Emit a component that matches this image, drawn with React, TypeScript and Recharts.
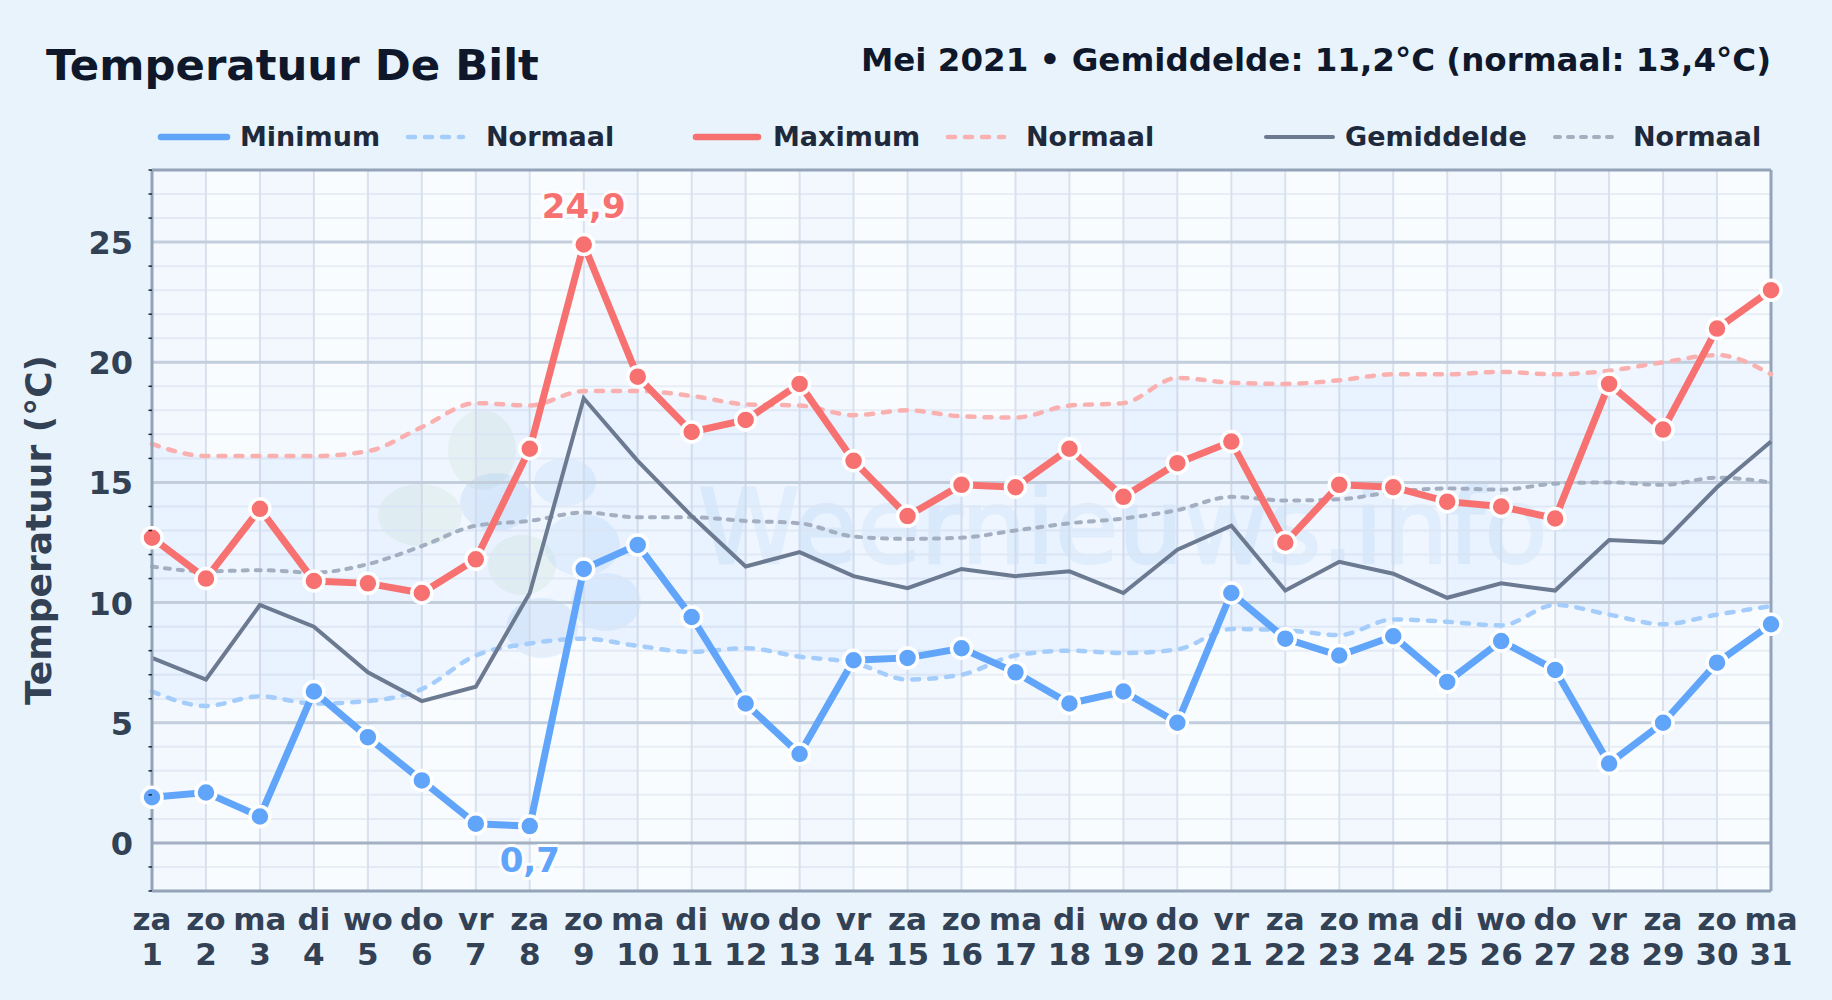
import { ComposedChart, Line, Area, XAxis, YAxis, CartesianGrid, ReferenceArea, ReferenceLine } from 'recharts';

const FONT = '"DejaVu Sans", sans-serif';

const days = [1, 2, 3, 4, 5, 6, 7, 8, 9, 10, 11, 12, 13, 14, 15, 16, 17, 18, 19, 20, 21, 22, 23, 24, 25, 26, 27, 28, 29, 30, 31];
const dayNames = ['za', 'zo', 'ma', 'di', 'wo', 'do', 'vr', 'za', 'zo', 'ma', 'di', 'wo', 'do', 'vr', 'za', 'zo', 'ma', 'di', 'wo', 'do', 'vr', 'za', 'zo', 'ma', 'di', 'wo', 'do', 'vr', 'za', 'zo', 'ma'];

const minimum = [1.9, 2.1, 1.1, 6.3, 4.4, 2.6, 0.8, 0.7, 11.4, 12.4, 9.4, 5.8, 3.7, 7.6, 7.7, 8.1, 7.1, 5.8, 6.3, 5.0, 10.4, 8.5, 7.8, 8.6, 6.7, 8.4, 7.2, 3.3, 5.0, 7.5, 9.1];
const maximum = [12.7, 11.0, 13.9, 10.9, 10.8, 10.4, 11.8, 16.4, 24.9, 19.4, 17.1, 17.6, 19.1, 15.9, 13.6, 14.9, 14.8, 16.4, 14.4, 15.8, 16.7, 12.5, 14.9, 14.8, 14.2, 14.0, 13.5, 19.1, 17.2, 21.4, 23.0];
const gemiddelde = [7.7, 6.8, 9.9, 9.0, 7.1, 5.9, 6.5, 10.4, 18.5, 15.9, 13.6, 11.5, 12.1, 11.1, 10.6, 11.4, 11.1, 11.3, 10.4, 12.2, 13.2, 10.5, 11.7, 11.2, 10.2, 10.8, 10.5, 12.6, 12.5, 14.8, 16.7];
const normaalMin = [6.3, 5.7, 6.1, 5.8, 5.9, 6.4, 7.8, 8.3, 8.5, 8.2, 7.95, 8.1, 7.75, 7.5, 6.8, 7.0, 7.8, 8.0, 7.9, 8.05, 8.9, 8.85, 8.65, 9.3, 9.2, 9.05, 9.9, 9.5, 9.1, 9.5, 9.85];
const normaalMax = [16.6, 16.1, 16.1, 16.1, 16.3, 17.3, 18.3, 18.2, 18.8, 18.8, 18.6, 18.25, 18.2, 17.8, 18.0, 17.75, 17.7, 18.2, 18.3, 19.35, 19.15, 19.1, 19.25, 19.5, 19.5, 19.6, 19.5, 19.65, 20.0, 20.3, 19.5];
const normaalGem = [11.5, 11.3, 11.35, 11.25, 11.6, 12.35, 13.2, 13.4, 13.75, 13.55, 13.55, 13.4, 13.3, 12.75, 12.65, 12.7, 13.0, 13.3, 13.5, 13.85, 14.4, 14.25, 14.3, 14.6, 14.75, 14.7, 14.95, 15.0, 14.9, 15.2, 15.0];

const yTicks = [-2, -1, 0, 1, 2, 3, 4, 5, 6, 7, 8, 9, 10, 11, 12, 13, 14, 15, 16, 17, 18, 19, 20, 21, 22, 23, 24, 25, 26, 27, 28];
const majorTicks = [5, 10, 15, 20, 25];
const stripeDays = [1, 3, 5, 7, 9, 11, 13, 15, 17, 19, 21, 23, 25, 27, 29];

const data = days.map((day, i) => ({
  day,
  minimum: minimum[i],
  maximum: maximum[i],
  gemiddelde: gemiddelde[i],
  normaalMin: normaalMin[i],
  normaalMax: normaalMax[i],
  normaalGem: normaalGem[i],
}));

const MIN_COLOR = '#60a5fa';
const MAX_COLOR = '#f87171';
const GEM_COLOR = '#6b7a90';

const legendItems = [
  { label: 'Minimum', x1: 161, x2: 227, tx: 240, color: MIN_COLOR, w: 6.5, dash: undefined },
  { label: 'Normaal', x1: 408, x2: 463, tx: 486, color: '#a5cdfb', w: 4.5, dash: '7 10' },
  { label: 'Maximum', x1: 696, x2: 758, tx: 773, color: MAX_COLOR, w: 6.5, dash: undefined },
  { label: 'Normaal', x1: 948, x2: 1004, tx: 1026, color: '#fbb0b0', w: 4.5, dash: '7 10' },
  { label: 'Gemiddelde', x1: 1266, x2: 1333, tx: 1345, color: GEM_COLOR, w: 4, dash: undefined },
  { label: 'Normaal', x1: 1555, x2: 1618, tx: 1633, color: '#a3afc0', w: 4, dash: '5 8' },
];

// logo blobs behind the plot
const blobs = [
  { cx: 482, cy: 450, rx: 34, ry: 40, fill: '#b7dcb0' },
  { cx: 420, cy: 515, rx: 42, ry: 31, fill: '#b7dcb0' },
  { cx: 522, cy: 565, rx: 34, ry: 30, fill: '#b7dcb0' },
  { cx: 496, cy: 502, rx: 36, ry: 29, fill: '#7fb2ea' },
  { cx: 565, cy: 482, rx: 31, ry: 24, fill: '#8cc4f5' },
  { cx: 582, cy: 545, rx: 38, ry: 31, fill: '#8cc4f5' },
  { cx: 606, cy: 602, rx: 35, ry: 29, fill: '#8cc4f5' },
  { cx: 542, cy: 628, rx: 36, ry: 30, fill: '#7fb2ea' },
];

function DayTick({ x, y, payload }: any) {
  const name = dayNames[payload.value - 1];
  return (
    <text x={x} textAnchor="middle" fontFamily={FONT} fontWeight={700} fontSize={31} fill="#334155">
      <tspan x={x} y={y + 31}>{name}</tspan>
      <tspan x={x} y={y + 66}>{payload.value}</tspan>
    </text>
  );
}

function TempTick({ y, payload }: any) {
  const v = payload.value;
  if (v % 5 === 0) {
    return (
      <text x={133} y={y + 12} textAnchor="end" fontFamily={FONT} fontWeight={700} fontSize={32} fill="#334155">
        {v}
      </text>
    );
  }
  return <line x1={148.5} x2={152} y1={y} y2={y} stroke="#1e293b" strokeWidth={1.5} />;
}

// only the extreme of a series gets a value label
function extremeLabel(values: number[], target: number, color: string, dy: number) {
  return ({ x, y, index }: any) => {
    if (values[index] !== target) return null;
    return (
      <text
        x={x}
        y={y + dy}
        textAnchor="middle"
        fontFamily={FONT}
        fontWeight={700}
        fontSize={34}
        fill={color}
        stroke="#fff"
        strokeWidth={6}
        strokeOpacity={0.85}
        strokeLinejoin="round"
        style={{ paintOrder: 'stroke' }}
      >
        {String(target).replace('.', ',')}
      </text>
    );
  };
}

export default function App() {
  return (
    <div style={{ position: 'absolute', left: 0, top: 0, width: 1832, height: 1000, background: '#e8f3fc', overflow: 'hidden' }}>
      <svg width={1832} height={1000} style={{ position: 'absolute', left: 0, top: 0 }}>
        <rect x={152} y={170} width={1619} height={721} fill="#f9fcff" />
        <g>
          {blobs.map((b, i) => (
            <ellipse key={'halo' + i} cx={b.cx} cy={b.cy} rx={b.rx + 9} ry={b.ry + 9} fill="#fff" opacity={0.18} />
          ))}
          {blobs.map((b, i) => (
            <ellipse key={i} cx={b.cx} cy={b.cy} rx={b.rx} ry={b.ry} fill={b.fill} opacity={0.16} />
          ))}
        </g>
        <text x={698} y={563} fontFamily={FONT} fontSize={103} fill="#5fb0e8" stroke="#5fb0e8" strokeWidth={2.5} opacity={0.1}>Weernieuws.info</text>
        <text x={46} y={80} fontFamily={FONT} fontWeight={700} fontSize={43.4} fill="#0f172a">Temperatuur De Bilt</text>
        <text x={1771} y={71} textAnchor="end" fontFamily={FONT} fontWeight={700} fontSize={32.5} fill="#0f172a">
          Mei 2021 • Gemiddelde: 11,2°C (normaal: 13,4°C)
        </text>
        {legendItems.map((item, i) => (
          <g key={i}>
            <line x1={item.x1} x2={item.x2} y1={137} y2={137} stroke={item.color} strokeWidth={item.w} strokeDasharray={item.dash} strokeLinecap="round" />
            <text x={item.tx} y={146} fontFamily={FONT} fontWeight={700} fontSize={27} fill="#1e293b">{item.label}</text>
          </g>
        ))}
        <text transform="translate(51 530) rotate(-90)" textAnchor="middle" fontFamily={FONT} fontWeight={700} fontSize={36} fill="#334155">
          Temperatuur (°C)
        </text>
      </svg>

      <div style={{ position: 'absolute', left: 0, top: 1 }}>
        <ComposedChart width={1832} height={1000} data={data} margin={{ top: 169, right: 61, bottom: 0, left: 0 }}>
          {stripeDays.map((d) => (
            <ReferenceArea key={d} x1={d} x2={d + 1} fill="#3b82f6" fillOpacity={0.03} stroke="none" />
          ))}
          <CartesianGrid stroke="#e8eef5" strokeWidth={2} vertical={false} />
          <CartesianGrid stroke="#dce3ed" strokeWidth={2} horizontal={false} />
          {majorTicks.map((t) => (
            <ReferenceLine key={t} y={t} stroke="#c3cedd" strokeWidth={3} />
          ))}
          <ReferenceLine y={0} stroke="#a3b0c2" strokeWidth={3} />
          <XAxis dataKey="day" type="number" domain={[1, 31]} ticks={days} interval={0} height={110} tick={<DayTick />} tickLine={false} axisLine={{ stroke: '#94a3b8', strokeWidth: 3 }} />
          <YAxis type="number" domain={[-2, 28]} ticks={yTicks} interval={0} width={152} tick={<TempTick />} tickLine={false} axisLine={{ stroke: '#94a3b8', strokeWidth: 3 }} />
          <ReferenceLine x={31} stroke="#94a3b8" strokeWidth={3} />
          <ReferenceLine y={28} stroke="#94a3b8" strokeWidth={3} />
          <Area dataKey={(d: any) => [d.normaalMin, d.normaalMax]} type="monotone" fill="#3b82f6" fillOpacity={0.05} stroke="none" isAnimationActive={false} dot={false} activeDot={false} />
          <Line dataKey="normaalMin" type="monotone" stroke="#a5cdfb" strokeWidth={4.5} strokeDasharray="7 10" strokeLinecap="round" dot={false} isAnimationActive={false} />
          <Line dataKey="normaalMax" type="monotone" stroke="#fbb0b0" strokeWidth={4.5} strokeDasharray="7 10" strokeLinecap="round" dot={false} isAnimationActive={false} />
          <Line dataKey="normaalGem" type="monotone" stroke="#a3afc0" strokeWidth={4} strokeDasharray="5 8" strokeLinecap="round" dot={false} isAnimationActive={false} />
          <Line dataKey="gemiddelde" type="linear" stroke={GEM_COLOR} strokeWidth={4} dot={false} isAnimationActive={false} />
          <Line dataKey="maximum" type="linear" stroke={MAX_COLOR} strokeWidth={7} dot={{ r: 10, fill: MAX_COLOR, stroke: '#fff', strokeWidth: 3.5 }} label={extremeLabel(maximum, Math.max(...maximum), MAX_COLOR, -27)} isAnimationActive={false} />
          <Line dataKey="minimum" type="linear" stroke={MIN_COLOR} strokeWidth={7} dot={{ r: 10, fill: MIN_COLOR, stroke: '#fff', strokeWidth: 3.5 }} label={extremeLabel(minimum, Math.min(...minimum), MIN_COLOR, 46)} isAnimationActive={false} />
        </ComposedChart>
      </div>
    </div>
  );
}
